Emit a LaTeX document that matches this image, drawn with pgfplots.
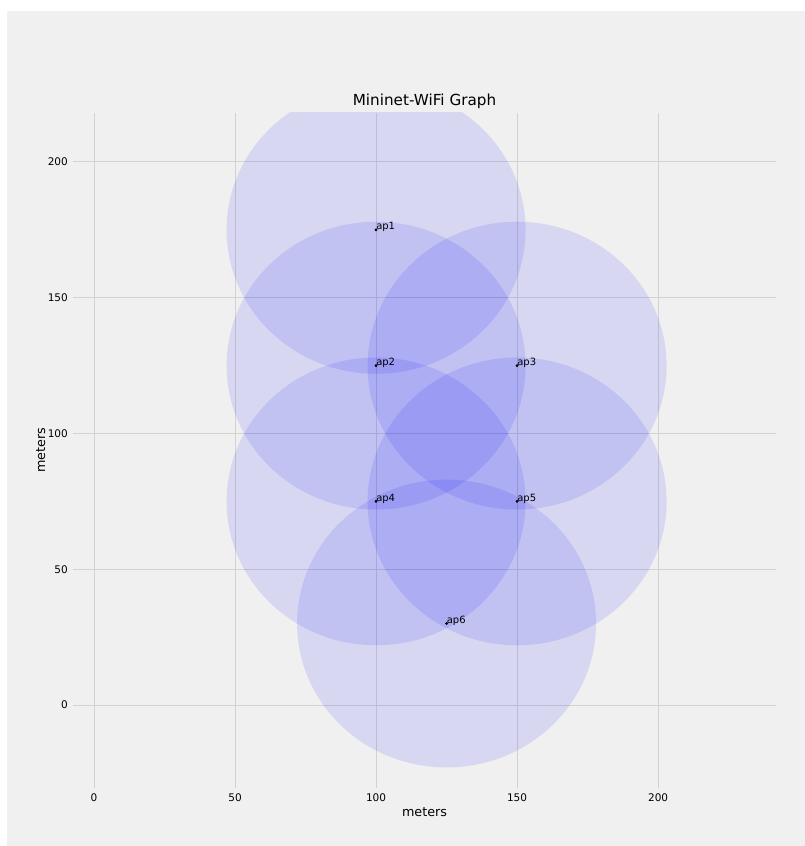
\documentclass[border=0pt]{standalone}
\usepackage{pgfplots}
\usepackage{pgfplotstable}
\pgfplotsset{compat=1.18}
\usepackage{fontspec}
\setmainfont{DejaVu Sans}
\definecolor{bgc}{HTML}{F0F0F0}
\definecolor{gridc}{HTML}{D2D2D2}

\pgfplotstableread{
x   y   r  name
100 175 53 ap1
100 125 53 ap2
150 125 53 ap3
100 75  53 ap4
150 75  53 ap5
125 30  53 ap6
}\aps

\begin{document}
\begin{tikzpicture}[x=1pt,y=1pt]
\fill[white] (-73,-58) rectangle (732,788);
\fill[bgc] (-66,-58) rectangle (732,777);
\begin{axis}[
  at={(0,0)}, anchor=south west,
  scale only axis, width=703pt, height=675pt,
  xmin=-7.45, xmax=241.8, ymin=-30.57, ymax=218.05,
  axis line style={draw=none},
  major tick length=0pt,
  xtick={0,50,100,150,200}, ytick={0,50,100,150,200},
  grid=major, grid style={gridc, line width=1pt},
  /pgf/number format/assume math mode=true,
  tick label style={font=\fontsize{10.5}{12}\selectfont, inner sep=0pt},
  xticklabel style={anchor=north, yshift=-6pt},
  yticklabel style={anchor=east, xshift=-5pt},
  xlabel={meters}, ylabel={meters},
  label style={font=\fontsize{12.75}{15}\selectfont, inner sep=0pt},
  xlabel style={at={(axis description cs:0.5,-0.04296)}, anchor=base},
  ylabel style={at={(axis description cs:-0.0398,0.5)}, anchor=base},
  every axis title shift=0pt,
  title={Mininet-WiFi Graph},
  title style={font=\fontsize{15.2}{18}\selectfont, inner sep=0pt, at={(axis description cs:0.5,1.0104)}, anchor=base},
]
\pgfplotsinvokeforeach{0,...,5}{
  \pgfplotstablegetelem{#1}{x}\of\aps \let\cx\pgfplotsretval
  \pgfplotstablegetelem{#1}{y}\of\aps \let\cy\pgfplotsretval
  \pgfplotstablegetelem{#1}{r}\of\aps \let\cr\pgfplotsretval
  \edef\tmp{\noexpand\fill[blue, fill opacity=0.1] (axis cs:\cx,\cy) ellipse [x radius=\cr, y radius=\cr];}
  \tmp
}
\addplot[only marks, mark=*, mark size=1.2pt, black,
  nodes near coords, point meta=explicit symbolic,
  nodes near coords style={anchor=base west, inner sep=0pt, font=\fontsize{10}{12}\selectfont, text=black}]
  table[x=x, y=y, meta=name]{\aps};
\end{axis}
\end{tikzpicture}
\end{document}
